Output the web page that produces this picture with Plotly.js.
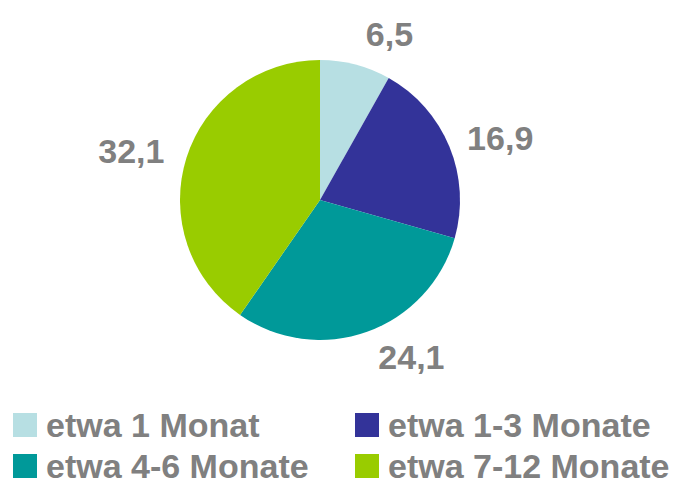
<!DOCTYPE html>
<html>
<head>
<meta charset="utf-8">
<script src="https://cdn.plot.ly/plotly-3.0.1.min.js"></script>
<style>html,body{margin:0;padding:0;background:#fff;}#chart{width:681px;height:484px;}</style>
</head>
<body>
<div id="chart"></div>
<script>
var categories = ["etwa 1 Monat", "etwa 1-3 Monate", "etwa 4-6 Monate", "etwa 7-12 Monate"];
var values = [6.5, 16.9, 24.1, 32.1];
var colors = ["#B7DFE3", "#333399", "#009999", "#99CC00"];

var W = 681, H = 484;
var labelFont = {family: "Liberation Sans, Arial, sans-serif", size: 34, color: "#808080", weight: "bold"};
var legendFont = {family: "Liberation Sans, Arial, sans-serif", size: 34, color: "#808080", weight: "bold"};

function dom(cx, cy, r) {
  return {x: [(cx - r) / W, (cx + r) / W], y: [1 - (cy + r) / H, 1 - (cy - r) / H]};
}

// visible pie
var pie = {
  type: "pie",
  labels: categories,
  values: values,
  sort: false,
  direction: "clockwise",
  rotation: 0,
  domain: dom(320, 200, 140),
  marker: {colors: colors, line: {width: 0}},
  textinfo: "none",
  showlegend: false,
  hoverinfo: "label+value"
};
// transparent companion pie that carries the outside value labels a bit further out
var labelPie = {
  type: "pie",
  labels: categories,
  values: values,
  sort: false,
  direction: "clockwise",
  rotation: 0,
  domain: dom(318, 198, 151),
  marker: {colors: categories.map(function(){return "rgba(0,0,0,0)";}), line: {width: 0}},
  textinfo: "value",
  texttemplate: "%{value:.1f}",
  textposition: "outside",
  outsidetextfont: labelFont,
  showlegend: false,
  hoverinfo: "skip"
};

// custom legend (2x2 grid) built from categories/colors
var legendCols = [13, 355];
var legendRows = [425, 466];
var shapes = [], annotations = [];
categories.forEach(function(c, i) {
  var x0 = legendCols[i % 2], yc = legendRows[Math.floor(i / 2)];
  shapes.push({type: "rect", xref: "paper", yref: "paper",
    x0: x0 / W, x1: (x0 + 24) / W,
    y0: 1 - (yc + 12) / H, y1: 1 - (yc - 12) / H,
    fillcolor: colors[i], line: {width: 0}});
  annotations.push({xref: "paper", yref: "paper", x: (x0 + 31) / W, y: 1 - yc / H,
    xanchor: "left", yanchor: "middle", showarrow: false, text: c, font: legendFont});
});

var layout = {
  width: W, height: H,
  margin: {l: 0, r: 0, t: 0, b: 0, pad: 0},
  separators: ",.",
  paper_bgcolor: "#ffffff",
  showlegend: false,
  shapes: shapes,
  annotations: annotations
};

Plotly.newPlot("chart", [labelPie, pie], layout, {displayModeBar: false, staticPlot: true});
</script>
</body>
</html>
